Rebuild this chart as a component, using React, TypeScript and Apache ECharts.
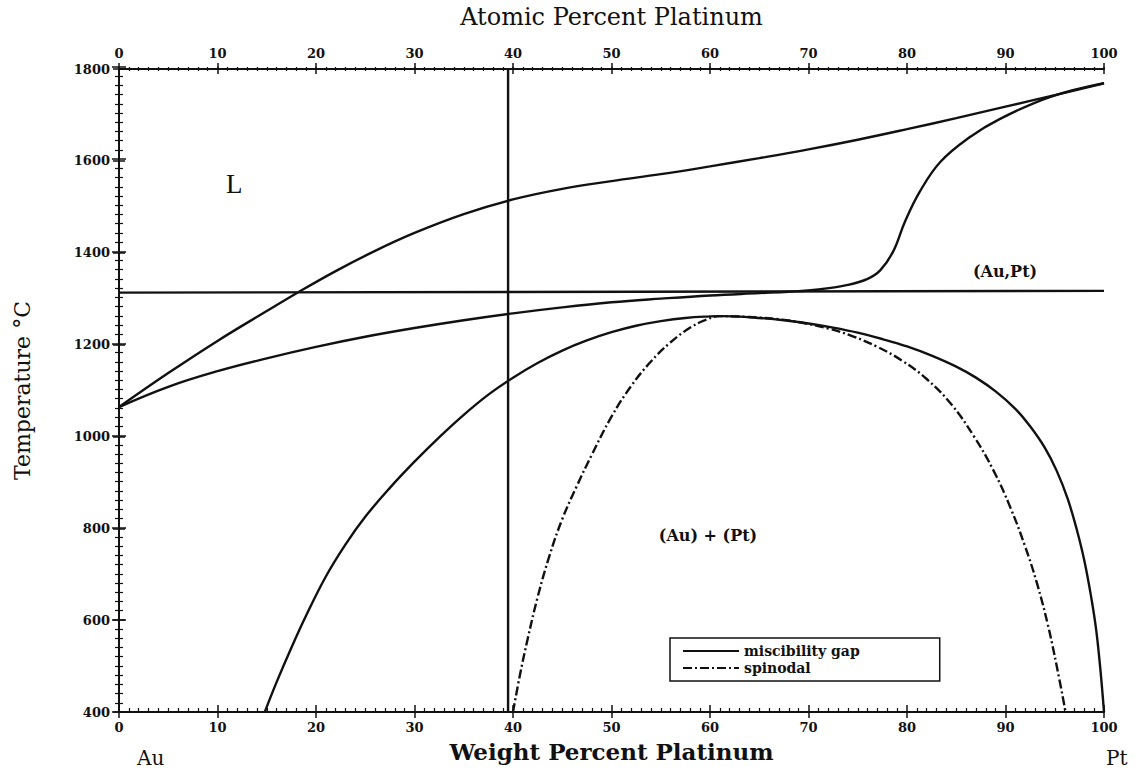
import React, { useEffect, useRef } from "react";
import * as echarts from "echarts";

// ---- data (wt.% Pt, temperature °C) ----
const liquidusX = [0, 5, 10, 15, 18.2, 22, 26, 30, 35, 40, 45, 50, 55, 60, 65, 70, 75, 80, 85, 90, 95, 100];
const liquidusT = [1064, 1138, 1208, 1273, 1314, 1360, 1404, 1443, 1484, 1516, 1539, 1556, 1571, 1588, 1606, 1625, 1646, 1669, 1693, 1718, 1743, 1769];

const solidusX = [0, 5, 10, 15, 20, 25, 30, 35, 40, 45, 50, 55, 60, 65, 68, 71, 74, 76, 77.3, 78.6, 79.8, 81.3, 83.4, 86.4, 89.4, 94.5, 100];
const solidusT = [1064, 1108, 1142, 1170, 1195, 1217, 1236, 1253, 1268, 1281, 1292, 1300, 1307, 1312, 1315, 1320, 1330, 1343, 1362, 1403, 1468, 1533, 1598, 1652, 1691, 1739, 1769];

const gapX = [14.8, 16, 17.5, 19, 21, 23, 25, 27.5, 30, 32.5, 35, 37.5, 40, 42.5, 45, 47.5, 50, 52.5, 55, 57.5, 60, 61,
  62.5, 65, 67.5, 70, 72.5, 75, 77.5, 80, 82.5, 85, 87, 89, 91, 92.5, 94, 95.2, 96.3, 97.2, 98, 98.7, 99.2, 99.6, 99.85, 100];
const gapT = [400, 465, 540, 610, 695, 765, 825, 888, 945, 998, 1047, 1091, 1128, 1160, 1187, 1209, 1227, 1241, 1251, 1258, 1261.5, 1262,
  1261.5, 1258, 1253, 1246, 1237, 1226, 1212, 1196, 1176, 1152, 1128, 1098, 1060, 1022, 975, 925, 865, 800, 730, 650, 580, 500, 440, 400];

const spinX = [40, 40.7, 41.5, 42.5, 43.7, 45, 46.5, 48, 50, 52, 54, 56, 58, 59.5, 61,
  64, 67, 69.5, 72, 74.5, 77, 79.5, 82, 84.5, 86.8, 88.8, 90.5, 92, 93.2, 94.3, 95.2, 96.1];
const spinT = [400, 480, 560, 650, 740, 820, 893, 960, 1043, 1110, 1163, 1205, 1237, 1253, 1262,
  1260, 1255, 1247, 1235, 1218, 1195, 1165, 1125, 1070, 1000, 925, 845, 760, 680, 590, 500, 400];

const verticalX = [39.5, 39.5];
const verticalT = [400, 1800];
const horizontalX = [0, 100];
const horizontalT = [1313, 1317];

const xTicks = [0, 10, 20, 30, 40, 50, 60, 70, 80, 90, 100];
const yTicks = [400, 600, 800, 1000, 1200, 1400, 1600, 1800];

const pairs = (xs: number[], ys: number[]) => xs.map((x, i) => [x, ys[i]]);

const SERIF = "'DejaVu Serif', 'Liberation Serif', serif";

export default function App() {
  const ref = useRef<HTMLDivElement>(null);
  useEffect(() => {
    document.body.style.margin = "0";
    const chart = echarts.init(ref.current!, null, { renderer: "svg" });
    const lbl = { fontFamily: SERIF, fontSize: 13, fontWeight: "bold" as const, color: "#111", formatter: (v: number) => String(v) };
    const axisLine = { show: true, lineStyle: { color: "#111", width: 2 } };
    const outerX = (pos: "bottom" | "top", name: string, gap: number) => ({
      type: "value", gridIndex: 0, position: pos, min: xTicks[0], max: xTicks[xTicks.length - 1], interval: 10,
      axisLine, axisTick: { show: true, inside: false, length: 6, lineStyle: { color: "#111", width: 1.5 } },
      axisLabel: { ...lbl, margin: 9 }, splitLine: { show: false },
      name, nameLocation: "middle", nameGap: gap,
      nameTextStyle: pos === "bottom"
        ? { fontFamily: SERIF, fontSize: 23, color: "#111", fontWeight: "bold" }
        : { fontFamily: SERIF, fontSize: 24, color: "#111", fontWeight: "normal" },
    });
    const innerX = (pos: "bottom" | "top") => ({
      type: "value", gridIndex: 1, position: pos, min: 0, max: 100, interval: 10,
      axisLine: { show: false }, axisLabel: { show: false }, splitLine: { show: false },
      axisTick: { show: true, inside: true, length: 7, lineStyle: { color: "#111", width: 1.5 } },
      minorTick: { show: true, splitNumber: 10, length: 4, lineStyle: { color: "#111", width: 1.2 } },
    });
    const innerY = (pos: "left" | "right") => ({
      type: "value", gridIndex: 1, position: pos, min: 400, max: 1800, interval: 200,
      axisLine: { show: false }, axisLabel: { show: false }, splitLine: { show: false },
      axisTick: { show: true, inside: true, length: 7, lineStyle: { color: "#111", width: 1.5 } },
      minorTick: { show: true, splitNumber: 10, length: 4, lineStyle: { color: "#111", width: 1.2 } },
    });
    const curve = (name: string, data: number[][], type: any = "solid") => ({
      name, type: "line", xAxisIndex: 0, yAxisIndex: 0, data, showSymbol: false, symbol: "none",
      smooth: 0.4, color: "#111", lineStyle: { color: "#111", width: 2.4, type }, z: 3,
    });
    chart.setOption({
      animation: false,
      backgroundColor: "#fff",
      grid: [
        { left: 119, top: 67, width: 985, height: 645 },
        { left: 119, top: 67, width: 985, height: 645 },
      ],
      xAxis: [
        outerX("bottom", "Weight Percent Platinum", 28),
        outerX("top", "Atomic Percent Platinum", 40),
        innerX("bottom"),
        innerX("top"),
      ],
      yAxis: [
        {
          type: "value", gridIndex: 0, position: "left", min: yTicks[0], max: yTicks[yTicks.length - 1], interval: 200,
          axisLine, axisTick: { show: true, inside: false, length: 6, lineStyle: { color: "#111", width: 1.5 } },
          axisLabel: { ...lbl, margin: 9 }, splitLine: { show: false },
          name: "Temperature °C", nameLocation: "middle", nameGap: 86,
          nameTextStyle: { fontFamily: SERIF, fontSize: 22, color: "#111" },
        },
        {
          type: "value", gridIndex: 0, position: "right", min: 400, max: 1800, interval: 200,
          axisLine, axisTick: { show: true, inside: false, length: 6, lineStyle: { color: "#111", width: 1.5 } },
          axisLabel: { show: false }, splitLine: { show: false },
        },
        innerY("left"),
        innerY("right"),
      ],
      legend: {
        left: 670, top: 638, orient: "vertical",
        data: ["miscibility gap", "spinodal"],
        borderColor: "#111", borderWidth: 1.5, borderRadius: 0,
        padding: [6, 80, 6, 12], itemGap: 3, itemWidth: 56, itemHeight: 13,
        itemStyle: { opacity: 0 },
        textStyle: { fontFamily: SERIF, fontSize: 14, fontWeight: "bold", color: "#111" },
        selectedMode: false,
      },
      series: [
        curve("liquidus", pairs(liquidusX, liquidusT)),
        curve("solidus", pairs(solidusX, solidusT)),
        curve("miscibility gap", pairs(gapX, gapT)),
        curve("spinodal", pairs(spinX, spinT), [9, 3, 2, 3]),
        { name: "v", type: "line", data: pairs(verticalX, verticalT), showSymbol: false, symbol: "none", lineStyle: { color: "#111", width: 2.4 } },
        { name: "h", type: "line", data: pairs(horizontalX, horizontalT), showSymbol: false, symbol: "none", lineStyle: { color: "#111", width: 2.4 } },
      ],
      graphic: [
        { type: "text", left: 226, top: 170, style: { text: "L", font: "27px 'Liberation Serif', serif", fill: "#111" } },
        { type: "text", x: 1005, y: 271, style: { text: "(Au,Pt)", font: `bold 16px ${SERIF}`, fill: "#111", align: "center", verticalAlign: "middle" } },
        { type: "text", x: 708, y: 535, style: { text: "(Au) + (Pt)", font: `bold 16px ${SERIF}`, fill: "#111", align: "center", verticalAlign: "middle" } },
        { type: "text", x: 137, y: 758, style: { text: "Au", font: `20px ${SERIF}`, fill: "#111", verticalAlign: "middle" } },
        { type: "text", x: 1106, y: 758, style: { text: "Pt", font: `20px ${SERIF}`, fill: "#111", verticalAlign: "middle" } },
      ],
    });
    return () => chart.dispose();
  }, []);
  return <div ref={ref} style={{ width: 1145, height: 773 }} />;
}
